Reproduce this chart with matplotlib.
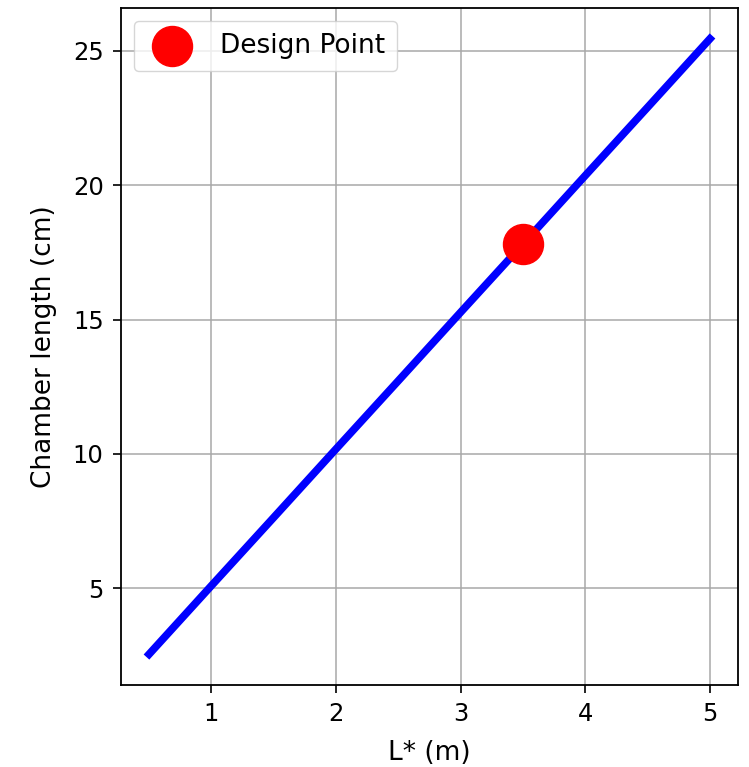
import matplotlib
matplotlib.use("Agg")
import matplotlib.pyplot as plt

# Characteristic length L* (m) versus resulting chamber length (cm)
l_star = [0.5, 1.0, 1.5, 2.0, 2.5, 3.0, 3.5, 4.0, 4.5, 5.0]
chamber_len = [2.54, 5.09, 7.63, 10.18, 12.72, 15.27, 17.81, 20.36, 22.90, 25.45]

design_l_star = [3.5]
design_len = [17.8]

label_fs = 19
tick_fs = 17.5
fig = plt.figure(figsize=(7.49, 7.67), dpi=100)
ax = fig.add_axes([121 / 749, 82 / 767, 617 / 749, 677 / 767])

ax.plot(l_star, chamber_len, color="blue", lw=5.5, zorder=2)
ax.scatter(design_l_star, design_len, s=830, color="red", zorder=3,
           label="Design Point")

ax.grid(True, color="#a8a8a8", lw=1.1)
ax.set_axisbelow(True)
ax.set_xlabel("L* (m)", fontsize=label_fs, labelpad=10)
ax.set_ylabel("Chamber length (cm)", fontsize=label_fs, labelpad=11)
ax.tick_params(labelsize=tick_fs, length=6, width=1.2, pad=6.5)
for sp in ax.spines.values():
    sp.set_linewidth(1.3)
ax.legend(loc="upper left", fontsize=label_fs, borderpad=0.45)

fig.savefig("out.png", dpi=100)
